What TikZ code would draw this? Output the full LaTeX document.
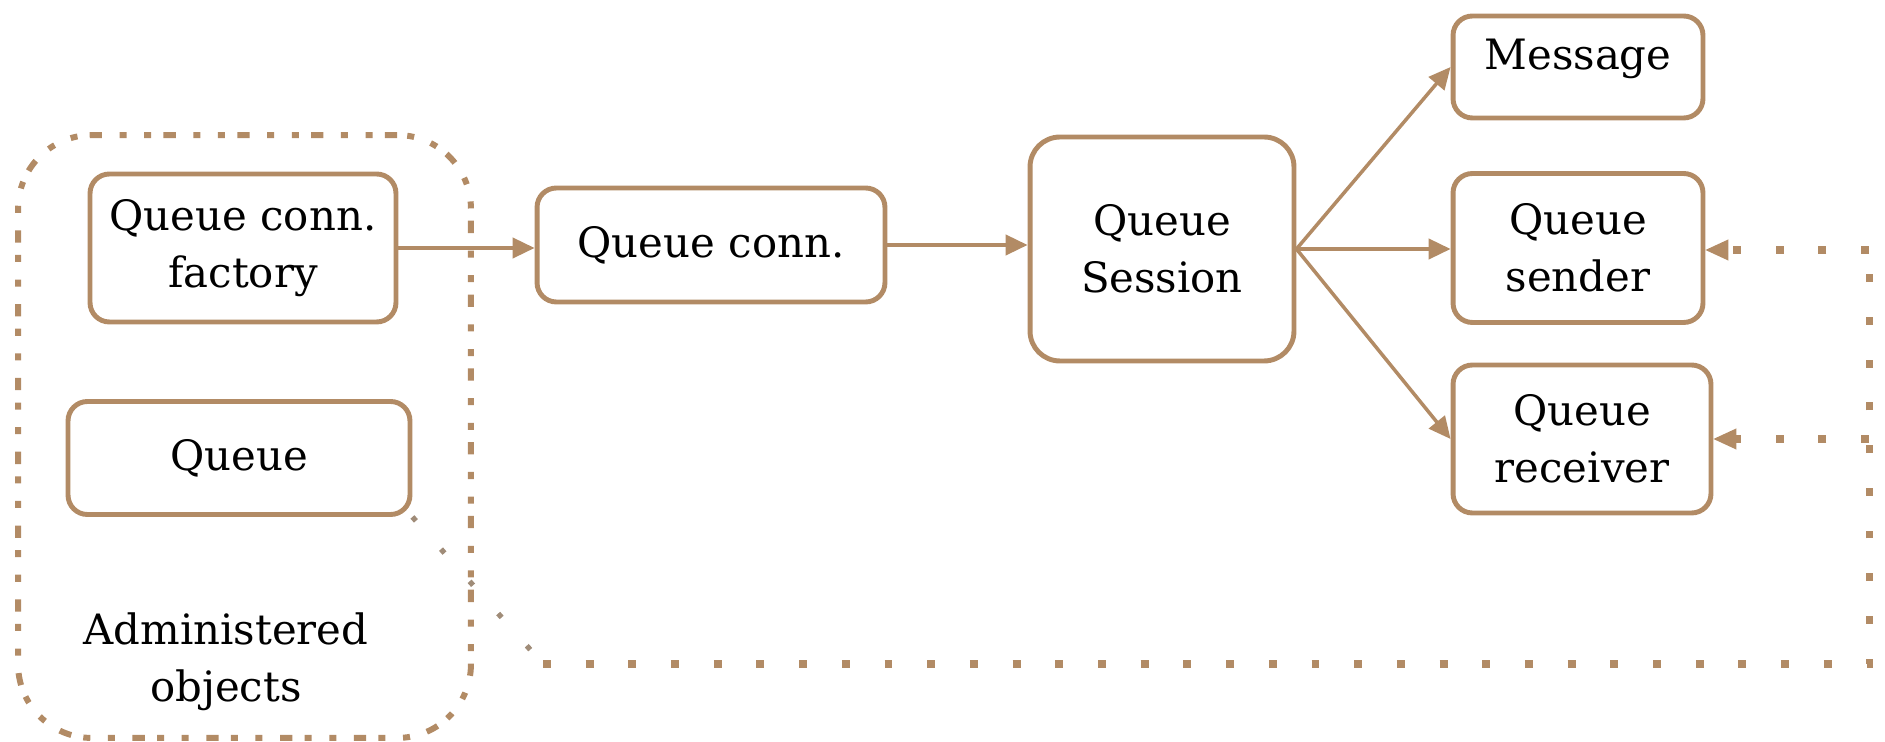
\documentclass[tikz,border=0pt]{standalone}
\usepackage{fontspec}
\setmainfont{DejaVu Serif}
\usetikzlibrary{arrows.meta}
\definecolor{tan}{RGB}{178,139,101}
\definecolor{tangrey}{RGB}{160,140,120}
\begin{document}
\begin{tikzpicture}[x=0.02cm, y=-0.02cm,
  txt/.style={font=\fontsize{23.8}{32.5}\selectfont, align=center, inner sep=0pt},
  box/.style={txt, draw=tan, line width=2.8pt, rounded corners=11pt, fill=white},
  tip/.style={-{Triangle[length=12.5pt, width=11.5pt]}},
  flow/.style={draw=tan, line width=2pt, tip},
  feed/.style={draw=tan, line width=4pt, dash pattern=on 4.5pt off 19.8pt},
  feedtip/.style={feed, -{Triangle[length=13pt, width=12pt, line width=0pt]}},
  diag/.style={draw=tangrey, line width=3pt, dash pattern=on 3pt off 21.5pt},
  group/.style={draw=tan, line width=3.4pt, rounded corners=42pt,
    dash pattern=on 7pt off 7pt on 4pt off 10pt on 4pt off 10pt}
]
\useasboundingbox (0,0) rectangle (1885,742);

% administered objects group
\node[group, minimum width=9.06cm, minimum height=12.06cm] (admin) at (244.5,436.5) {};
\node[txt] (admintext) at (226,662) {Administered\\objects};

% boxes
\node[box, minimum width=6.12cm, minimum height=2.96cm] (factory) at (243,248) {Queue conn.\\factory};
\node[box, minimum width=6.84cm, minimum height=2.26cm] (queue) at (239,458) {Queue};
\node[box, minimum width=6.96cm, minimum height=2.28cm] (qconn) at (711,245) {Queue conn.};
\node[box, rounded corners=17pt, minimum width=5.28cm, minimum height=4.48cm] (session) at (1162,249) {Queue\\Session};
\node[box, minimum width=5.0cm, minimum height=2.04cm] (message) at (1578,67) {};
\node[txt, anchor=base] (messagetext) at (1578,70) {Message};
\node[box, minimum width=5.0cm, minimum height=2.98cm] (sender) at (1578,248) {Queue\\sender};
\node[box, minimum width=5.16cm, minimum height=2.96cm] (receiver) at (1582,439) {Queue\\receiver};

% main flow
\draw[flow] (factory.east) -- (qconn.west |- factory.east);
\draw[flow] (qconn.east) -- (session.west |- qconn.east);
\draw[flow] (session.east) -- (message.west);
\draw[flow] (session.east) -- (sender.west |- session.east);
\draw[flow] (session.east) -- (receiver.west);

% lookup path from the queue to sender and receiver
\coordinate (bend) at (543,664);
\coordinate (corner) at (1869,664);
\coordinate (sendtap) at (1869,250);
\coordinate (recvtap) at (1869,439);
\draw[diag] (queue.south east) -- (bend);
\draw[feed] (bend) -- (corner) -- (sendtap);
\draw[feedtip] (sendtap) -- (sender.east |- sendtap);
\draw[feedtip] (recvtap) -- (receiver.east |- recvtap);
\end{tikzpicture}
\end{document}
